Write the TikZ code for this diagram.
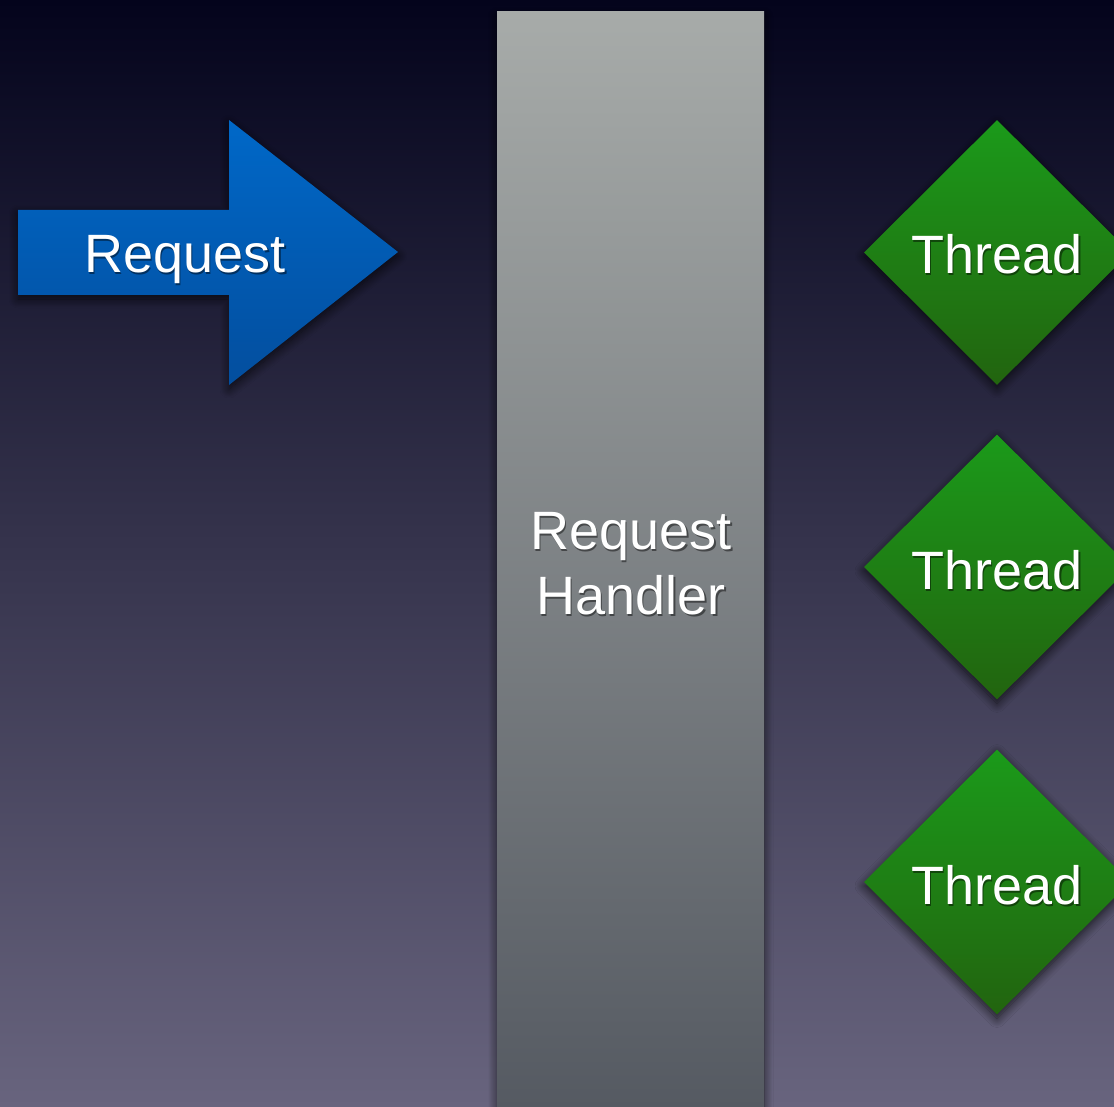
\documentclass[tikz,border=0pt]{standalone}
\usepackage{fontspec}
\setmainfont{Liberation Sans}
\usetikzlibrary{shapes.geometric,shadows.blur}
\definecolor{bgtop}{HTML}{04041C}
\definecolor{bgmid}{HTML}{363450}
\definecolor{bgbot}{HTML}{68647E}
\definecolor{rtop}{HTML}{A7ABA9}
\definecolor{rbot}{HTML}{545961}
\definecolor{atop}{HTML}{0068C8}
\definecolor{abot}{HTML}{034E9E}
\definecolor{gtop}{HTML}{1B9A1A}
\definecolor{gbot}{HTML}{22640F}
\tikzset{
  shapeshadow/.style={blur shadow={shadow xshift=0pt, shadow yshift=-4pt, shadow blur radius=9pt, shadow blur steps=12, shadow opacity=70}},
  lbl/.style={text=white, font=\fontsize{54}{65}\selectfont, anchor=base, inner sep=0pt, align=center},
  lblshadow/.style={text=black, opacity=0.45, font=\fontsize{54}{65}\selectfont, anchor=base, inner sep=0pt, align=center},
  thread/.style={diamond, aspect=1, minimum width=266pt, minimum height=265pt, inner sep=0pt, top color=gtop, bottom color=gbot, draw=none, shapeshadow},
}
\begin{document}
\begin{tikzpicture}[x=1pt,y=-1pt]
\useasboundingbox (0,0) rectangle (1114,1107);
\clip (0,0) rectangle (1114,1107);
\shade[top color=bgtop, middle color=bgmid, bottom color=bgbot] (0,0) rectangle (1114,1107);
% Request arrow
\path[top color=atop, bottom color=abot, shapeshadow]
  (18,210) -- (229,210) -- (229,120) -- (398,252) -- (229,385) -- (229,295) -- (18,295) -- cycle;
\node[lblshadow] (reqS) at (186.5,275) {Request};
\node[lbl] (req) at (185,273) {Request};
% Request handler
\node[rectangle, minimum width=267pt, minimum height=1110pt, inner sep=0pt, top color=rtop, bottom color=rbot, shapeshadow] (handler) at (630.5,567) {};
\node[lblshadow] (hS) at (632.5,551) {Request};
\node[lbl] (h1) at (631,549) {Request};
\node[lblshadow] (hS2) at (632.5,616) {Handler};
\node[lbl] (h2) at (631,614) {Handler};
% Threads
\node[thread] (t1) at (997,252.5) {};
\node[thread] (t2) at (997,567) {};
\node[thread] (t3) at (997,882) {};
\node[lblshadow] (t1S) at (998.5,276) {Thread};
\node[lbl] (t1l) at (997,274) {Thread};
\node[lblshadow] (t2S) at (998.5,591) {Thread};
\node[lbl] (t2l) at (997,589) {Thread};
\node[lblshadow] (t3S) at (998.5,906) {Thread};
\node[lbl] (t3l) at (997,904) {Thread};
\end{tikzpicture}
\end{document}
